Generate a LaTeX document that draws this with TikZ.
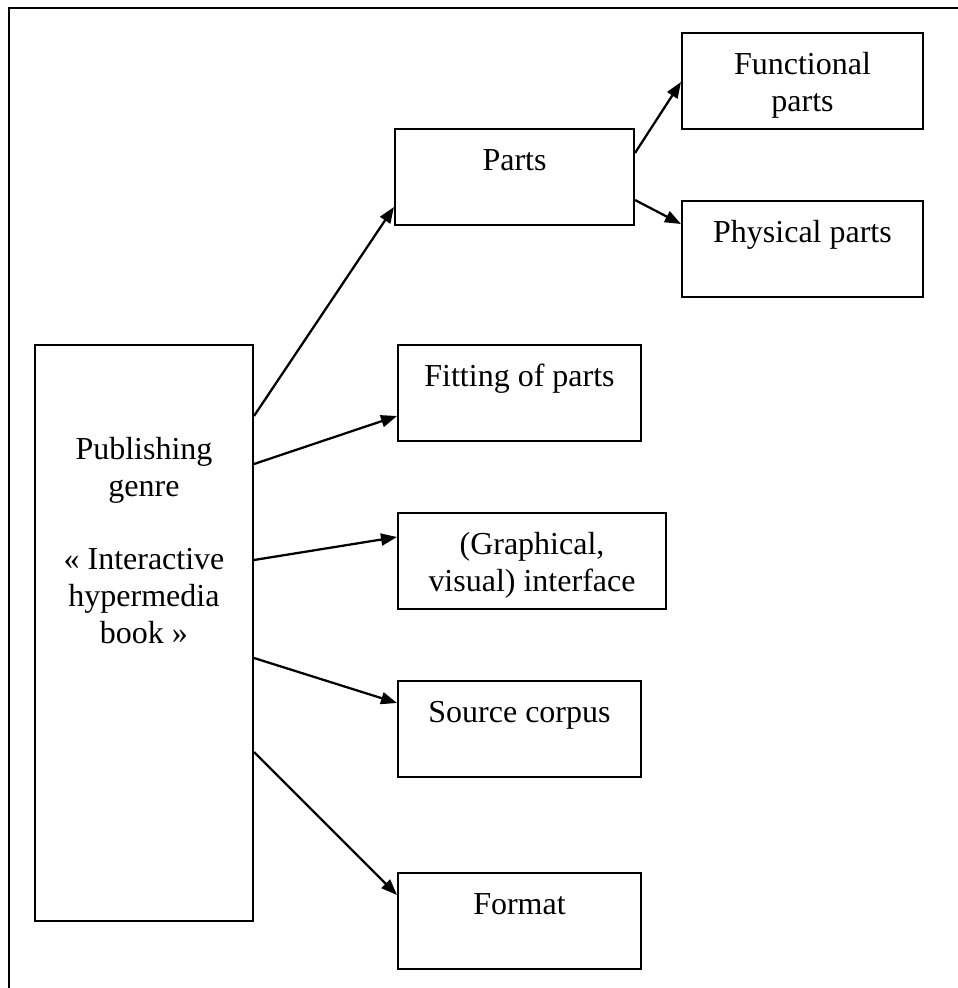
\documentclass[tikz,border=0pt]{standalone}
\usepackage{fontspec}
\setmainfont{Liberation Serif}
\usepackage{tikz}
\usetikzlibrary{arrows.meta,calc}

\tikzset{
    genrebox/.style={draw, line width=0.75pt, inner sep=0pt, anchor=north west,
        minimum height=96*0.375pt},
    boxtext/.style={anchor=north, inner sep=0pt, align=center,
        font=\fontsize{12}{13.8}\selectfont},
    link/.style={line width=0.85pt, -{Triangle[length=6pt,width=4.5pt]}}
}

\begin{document}
\begin{tikzpicture}[x=0.375pt,y=-0.375pt]
    \useasboundingbox (0,0) rectangle (958,988);

    % Frame (top and left side only)
    \draw[line width=0.75pt] (9.5,988) -- (9.5,7.5) -- (958,7.5);

    % Main box
    \node[genrebox, minimum width=218*0.375pt, minimum height=576*0.375pt] (pub) at (34,344) {};
    \node[boxtext] (pubtxt) at ($(pub.north)+(0,89)$)
        {\strut Publishing\\genre\\[13.8pt]« Interactive\\hypermedia\\book »};

    % Aspects
    \node[genrebox, minimum width=239*0.375pt] (parts) at (394,128) {};
    \node[boxtext] (partstxt) at ($(parts.north)+(0,16)$) {\strut Parts};

    \node[genrebox, minimum width=243*0.375pt] (fitting) at (397,344) {};
    \node[boxtext] (fittingtxt) at ($(fitting.north)+(0,16)$) {\strut Fitting of parts};

    \node[genrebox, minimum width=268*0.375pt] (graph) at (397,512) {};
    \node[boxtext] (graphtxt) at ($(graph.north)+(0,16)$) {\strut (Graphical,\\visual) interface};

    \node[genrebox, minimum width=243*0.375pt] (source) at (397,680) {};
    \node[boxtext] (sourcetxt) at ($(source.north)+(0,16)$) {\strut Source corpus};

    \node[genrebox, minimum width=243*0.375pt] (format) at (397,872) {};
    \node[boxtext] (formattxt) at ($(format.north)+(0,16)$) {\strut Format};

    % Sub-parts
    \node[genrebox, minimum width=241*0.375pt] (func) at (681,32) {};
    \node[boxtext] (functxt) at ($(func.north)+(0,16)$) {\strut Functional\\parts};

    \node[genrebox, minimum width=241*0.375pt] (phys) at (681,200) {};
    \node[boxtext] (physstxt) at ($(phys.north)+(0,16)$) {\strut Physical parts};

    % Arrows
    \draw[link] ($(pub.north east)+(0,72)$) -- ($(parts.north west)+(0,79)$);
    \draw[link] ($(pub.north east)+(0,120)$) -- ($(fitting.north west)+(0,72)$);
    \draw[link] ($(pub.north east)+(0,216)$) -- ($(graph.north west)+(0,25)$);
    \draw[link] ($(pub.north east)+(0,314)$) -- ($(source.north west)+(0,23)$);
    \draw[link] ($(pub.north east)+(0,408)$) -- ($(format.north west)+(0,23)$);
    \draw[link] ($(parts.north east)+(0,25)$) -- ($(func.north west)+(0,50)$);
    \draw[link] ($(parts.north east)+(0,72)$) -- ($(phys.north west)+(0,24)$);
\end{tikzpicture}
\end{document}
